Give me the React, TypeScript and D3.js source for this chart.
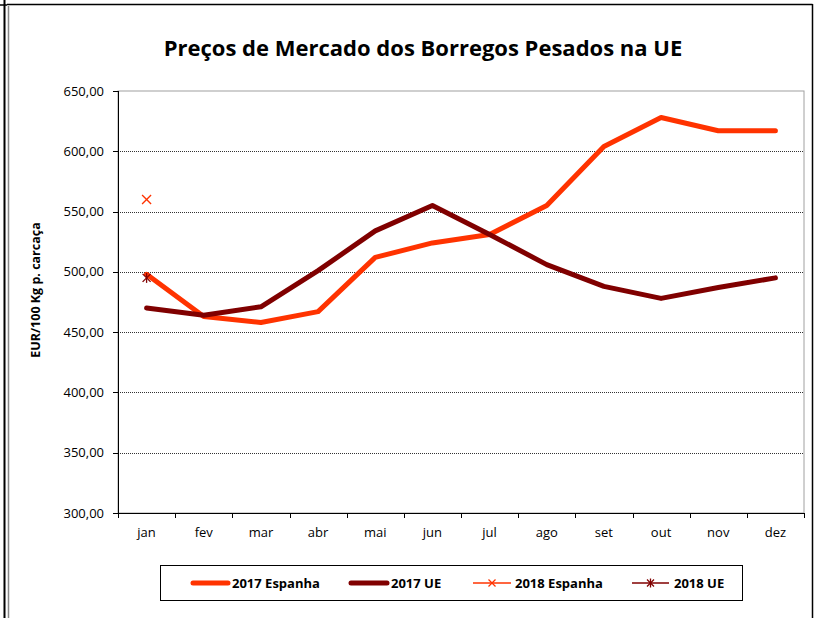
import React from "react";
import * as d3 from "d3";

const months = ["jan", "fev", "mar", "abr", "mai", "jun", "jul", "ago", "set", "out", "nov", "dez"];
const espanha2017 = [498, 463, 458, 467, 512, 524, 531, 555, 604, 628, 617, 617];
const ue2017 = [470, 464, 471, 501, 534, 555, 531, 506, 488, 478, 487, 495];
const espanha2018 = [560];
const ue2018 = [495];
const yTicks = [300, 350, 400, 450, 500, 550, 600, 650];

const ORANGE = "#ff3300";
const DARK = "#800000";
const FONT = "'Open Sans', sans-serif";

const W = 816;
const H = 618;
const margin = { left: 118, right: 804, top: 91, bottom: 513 };

export default function App() {
  const x = d3.scaleBand<string>().domain(months).range([margin.left, margin.right]);
  const y = d3.scaleLinear().domain([300, 650]).range([margin.bottom, margin.top]);
  const cx = (m: string) => (x(m) ?? 0) + x.bandwidth() / 2;

  const line = d3
    .line<number>()
    .x((_, i) => cx(months[i]))
    .y((d) => y(d));

  const fmt = (v: number) => v.toFixed(2).replace(".", ",");

  // legend entries: line start, line end, text start
  const legend = [
    { label: "2017 Espanha", color: ORANGE, kind: "thick", x0: 191, x1: 230, tx: 232 },
    { label: "2017 UE", color: DARK, kind: "thick", x0: 349, x1: 389, tx: 391 },
    { label: "2018 Espanha", color: ORANGE, kind: "x", x0: 473, x1: 511, tx: 515 },
    { label: "2018 UE", color: DARK, kind: "star", x0: 632, x1: 669, tx: 674 },
  ];

  const xMark = (px: number, py: number, s: number, color: string, w = 1.3) => (
    <g stroke={color} strokeWidth={w}>
      <line x1={px - s} y1={py - s} x2={px + s} y2={py + s} />
      <line x1={px - s} y1={py + s} x2={px + s} y2={py - s} />
    </g>
  );
  const starMark = (px: number, py: number, s: number, color: string) => (
    <g stroke={color} strokeWidth={1.3}>
      <line x1={px - s} y1={py - s} x2={px + s} y2={py + s} />
      <line x1={px - s} y1={py + s} x2={px + s} y2={py - s} />
      <line x1={px} y1={py - s - 1} x2={px} y2={py + s + 1} />
    </g>
  );

  return (
    <svg
      width={W}
      height={H}
      style={{ position: "absolute", left: 0, top: 0, background: "#fff" }}
      fontFamily={FONT}
    >
      {/* outer frames */}
      <line x1={4.5} y1={0} x2={4.5} y2={H} stroke="#000" strokeWidth={2} />
      <line x1={0} y1={5} x2={7} y2={5} stroke="#000" strokeWidth={1.5} />
      <line x1={7} y1={4.5} x2={812.5} y2={4.5} stroke="#000" strokeWidth={1.5} />
      <line x1={812.5} y1={4} x2={812.5} y2={H} stroke="#000" strokeWidth={1.5} />
      <line x1={8.5} y1={6} x2={8.5} y2={H} stroke="#888" strokeWidth={1.5} />

      {/* title */}
      <text x={423} y={56} textAnchor="middle" fontSize={22} fontWeight="bold" fill="#000">
        Preços de Mercado dos Borregos Pesados na UE
      </text>

      {/* plot border */}
      <rect
        x={margin.left}
        y={margin.top}
        width={margin.right - margin.left}
        height={margin.bottom - margin.top}
        fill="none"
        stroke="#a0a0a0"
        strokeWidth={1}
      />

      {/* gridlines */}
      {yTicks.slice(1, -1).map((t) => (
        <line
          key={t}
          x1={margin.left}
          x2={margin.right}
          y1={Math.round(y(t)) + 0.5}
          y2={Math.round(y(t)) + 0.5}
          stroke="#333"
          strokeWidth={1}
          strokeDasharray="1,1"
        />
      ))}

      {/* y axis */}
      <line x1={margin.left + 0.5} x2={margin.left + 0.5} y1={margin.top} y2={margin.bottom} stroke="#000" />
      {yTicks.map((t) => (
        <g key={t}>
          <line
            x1={margin.left - 5}
            x2={margin.left}
            y1={Math.round(y(t)) + 0.5}
            y2={Math.round(y(t)) + 0.5}
            stroke="#000"
          />
          <text x={104} y={y(t) + 4.5} textAnchor="end" fontSize={13} fill="#000">
            {fmt(t)}
          </text>
        </g>
      ))}

      {/* x axis */}
      <line x1={margin.left} x2={margin.right} y1={margin.bottom + 0.5} y2={margin.bottom + 0.5} stroke="#000" />
      {months.map((m, i) => (
        <g key={m}>
          <line
            x1={Math.round(x(m) ?? 0) + 0.5}
            x2={Math.round(x(m) ?? 0) + 0.5}
            y1={margin.bottom}
            y2={margin.bottom + 5}
            stroke="#000"
          />
          {i === months.length - 1 && (
            <line
              x1={margin.right + 0.5}
              x2={margin.right + 0.5}
              y1={margin.bottom}
              y2={margin.bottom + 5}
              stroke="#000"
            />
          )}
          <text x={cx(m)} y={537} textAnchor="middle" fontSize={13} fill="#000">
            {m}
          </text>
        </g>
      ))}

      {/* y label */}
      <text
        transform={`translate(40,290) rotate(-90)`}
        textAnchor="middle"
        fontSize={12.5}
        fontWeight="bold"
        fill="#000"
      >
        EUR/100 Kg p. carcaça
      </text>

      {/* series */}
      <path d={line(espanha2017) ?? ""} fill="none" stroke={ORANGE} strokeWidth={5} strokeLinejoin="round" strokeLinecap="round" />
      <path d={line(ue2017) ?? ""} fill="none" stroke={DARK} strokeWidth={5} strokeLinejoin="round" strokeLinecap="round" />
      {espanha2018.map((v, i) => (
        <g key={"e" + i}>{xMark(cx(months[i]), y(v), 4.5, ORANGE)}</g>
      ))}
      {ue2018.map((v, i) => (
        <g key={"u" + i}>{starMark(cx(months[i]), y(v), 4, DARK)}</g>
      ))}

      {/* legend */}
      <rect x={160.5} y={565.5} width={582} height={35} fill="#fff" stroke="#000" strokeWidth={1} />
      {legend.map((l) => (
        <g key={l.label}>
          {l.kind === "thick" ? (
            <line x1={l.x0 + 2} x2={l.x1 - 2} y1={583} y2={583} stroke={l.color} strokeWidth={5} strokeLinecap="round" />
          ) : (
            <>
              <line x1={l.x0} x2={l.x1} y1={583} y2={583} stroke={l.color} strokeWidth={1.3} />
              {l.kind === "x"
                ? xMark((l.x0 + l.x1) / 2, 583, 3.5, l.color)
                : starMark((l.x0 + l.x1) / 2, 583, 3.5, l.color)}
            </>
          )}
          <text x={l.tx} y={588} fontSize={13} fontWeight="bold" fill="#000">
            {l.label}
          </text>
        </g>
      ))}
    </svg>
  );
}
